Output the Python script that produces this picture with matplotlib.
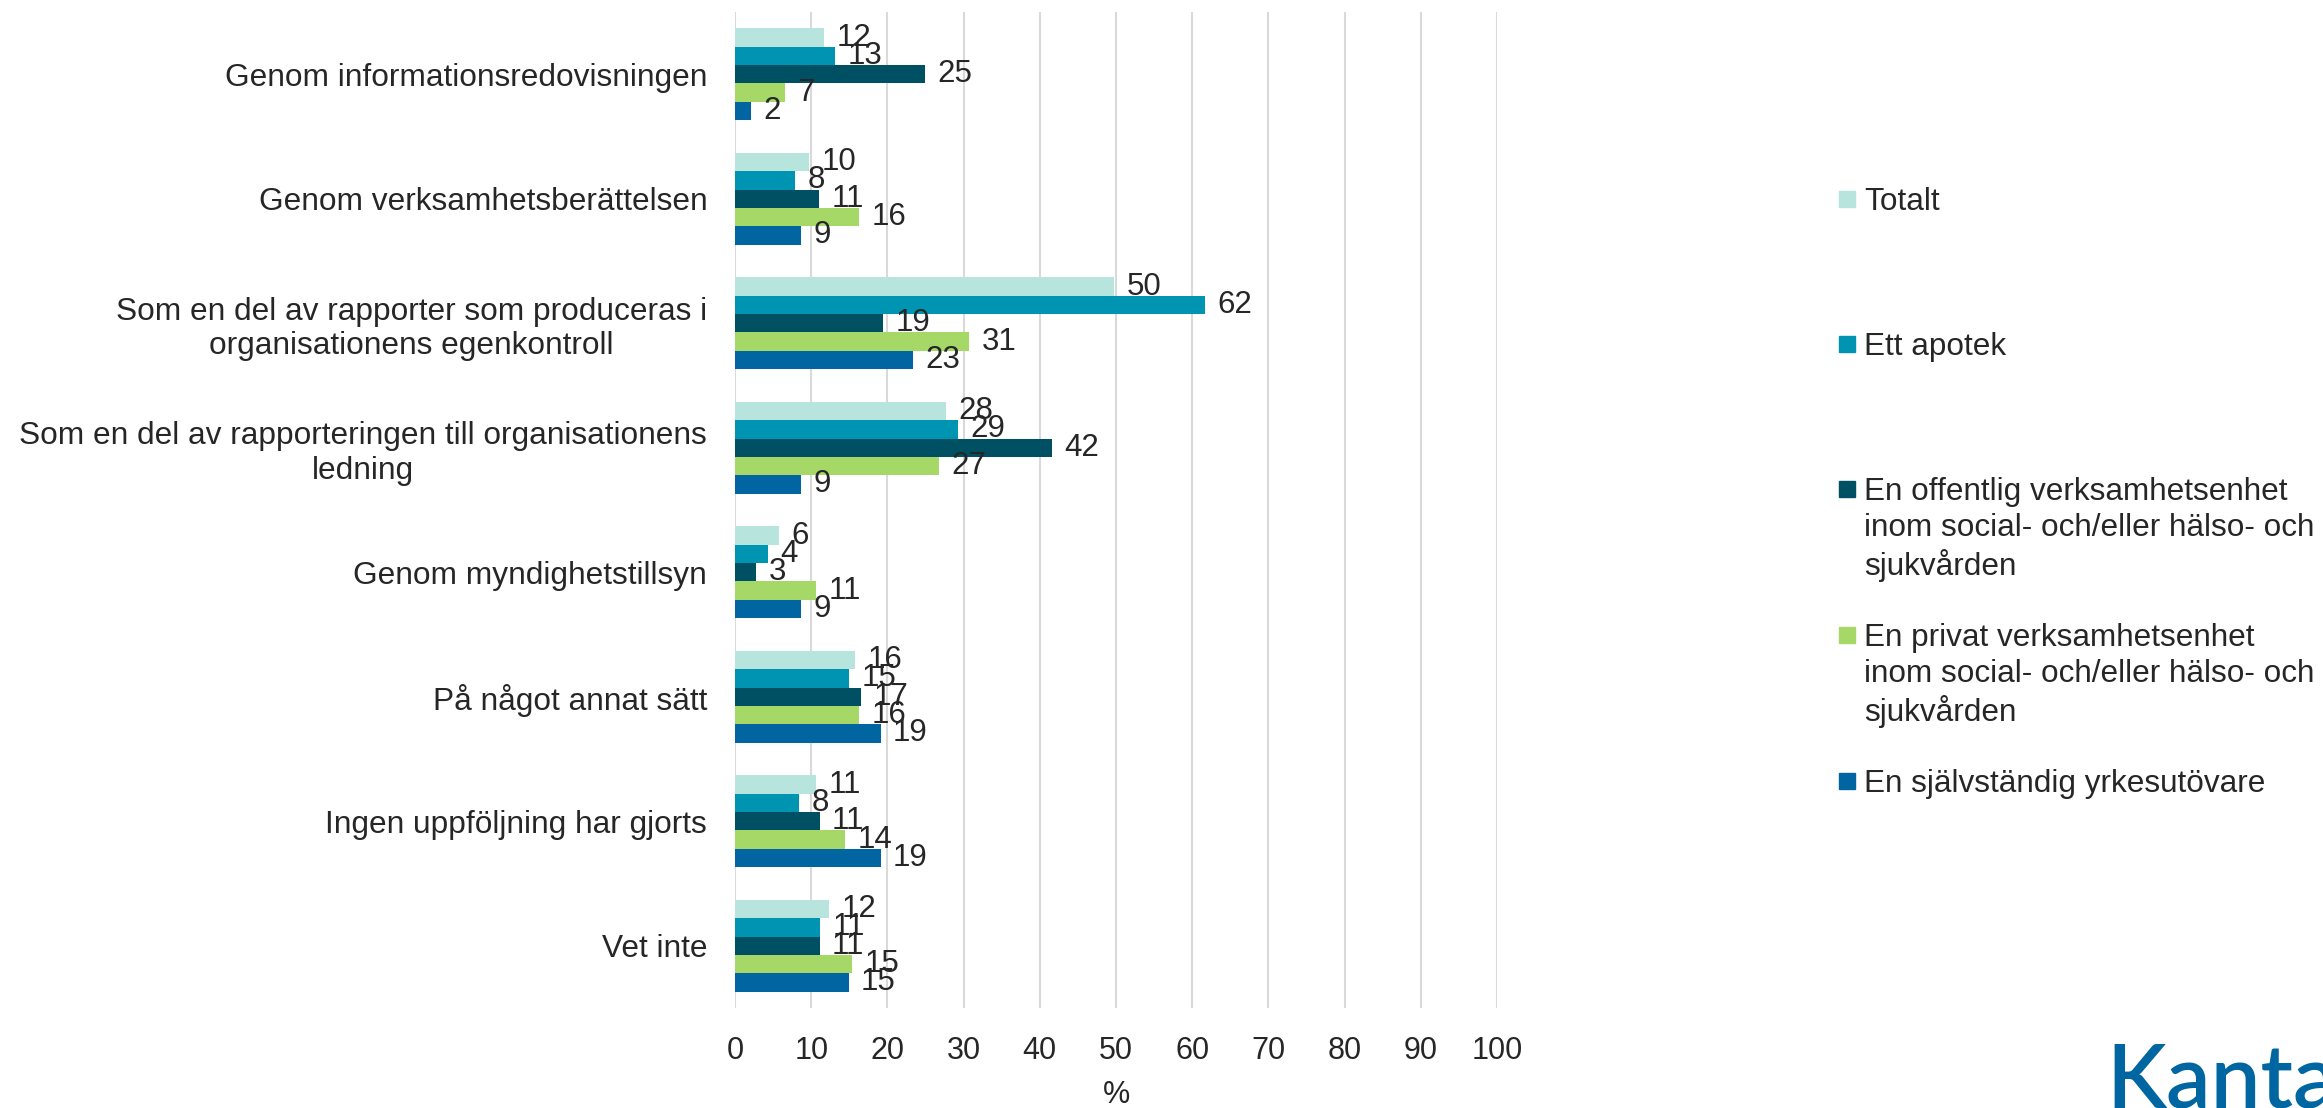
import numpy as np
import matplotlib.pyplot as plt
from matplotlib.patches import Rectangle
from matplotlib.ticker import MultipleLocator

plt.rcParams['font.family'] = ['Liberation Sans', 'DejaVu Sans']

categories = [
    "Genom informationsredovisningen",
    "Genom verksamhetsberättelsen",
    "Som en del av rapporter som produceras i\norganisationens egenkontroll",
    "Som en del av rapporteringen till organisationens\nledning",
    "Genom myndighetstillsyn",
    "På något annat sätt",
    "Ingen uppföljning har gjorts",
    "Vet inte",
]
series_names = [
    "Totalt",
    "Ett apotek",
    "En offentlig verksamhetsenhet\ninom social- och/eller hälso- och\nsjukvården",
    "En privat verksamhetsenhet\ninom social- och/eller hälso- och\nsjukvården",
    "En självständig yrkesutövare",
]
totalt = [11.7, 9.7, 49.8, 27.7, 5.8, 15.7, 10.6, 12.3]
apotek = [13.1, 7.9, 61.7, 29.2, 4.3, 15.0, 8.4, 11.2]
offentlig = [24.9, 11.0, 19.4, 41.6, 2.8, 16.6, 11.1, 11.1]
privat = [6.6, 16.3, 30.7, 26.8, 10.6, 16.3, 14.4, 15.4]
sjalv = [2.1, 8.6, 23.4, 8.6, 8.6, 19.1, 19.1, 14.9]
colors = ["#B7E4DC", "#0094B3", "#005064", "#A5D867", "#0065A0"]

W, H = 2323, 1108
txt = "#262626"
fig = plt.figure(figsize=(W / 100, H / 100), dpi=100)
ax = fig.add_axes([735 / W, 1 - 1008 / H, (1497 - 735) / W, (1008 - 12) / H])

y = np.arange(len(categories))
h = 0.147
for j, vals in enumerate([totalt, apotek, offentlig, privat, sjalv]):
    pos = y + (j - 2) * h
    ax.barh(pos, vals, height=h, color=colors[j], zorder=2)
    for p, v in zip(pos, vals):
        ax.annotate(f"{v:.0f}", xy=(v, p), xytext=(9, 0), textcoords='offset points',
                    va='center', ha='left', fontsize=22.5, color=txt, zorder=3)

ax.set_xlim(0, 100)
ax.set_ylim(len(categories) - 0.5, -0.5)
ax.xaxis.set_major_locator(MultipleLocator(10))
ax.set_yticks(y)
ax.set_yticklabels(categories, fontsize=22.8, color=txt)
for lbl in ax.get_yticklabels():
    lbl.set_multialignment('center')
ax.tick_params(axis='both', length=0)
ax.tick_params(axis='y', pad=20)
ax.tick_params(axis='x', pad=20, labelsize=22, labelcolor=txt)
ax.set_xlabel('%', fontsize=22, color=txt, labelpad=10.5)
for s in ax.spines.values():
    s.set_visible(False)
ax.grid(axis='x', color='#D9D9D9', linewidth=1.5, zorder=0)
ax.set_axisbelow(True)

# legend, drawn by hand so the markers sit on the first line
leg_y = [198.7, 344, 489, 635, 781]
for name, c, yy in zip(series_names, colors, leg_y):
    fig.add_artist(Rectangle((1839 / W, 1 - (yy + 8) / H), 16 / W, 16 / H,
                             transform=fig.transFigure, color=c))
    fig.text(1864 / W, 1 - (yy - 12) / H, name, fontsize=22.7, color=txt,
             va='top', ha='left', linespacing=1.25)

fig.text(2106 / W, 1 - 1107 / H, "Kantar", fontsize=64, color="#0066A1",
         family=['Lato', 'DejaVu Sans'], fontweight='semibold',
         va='baseline', ha='left')

fig.savefig('out.png', dpi=100)
plt.close(fig)
